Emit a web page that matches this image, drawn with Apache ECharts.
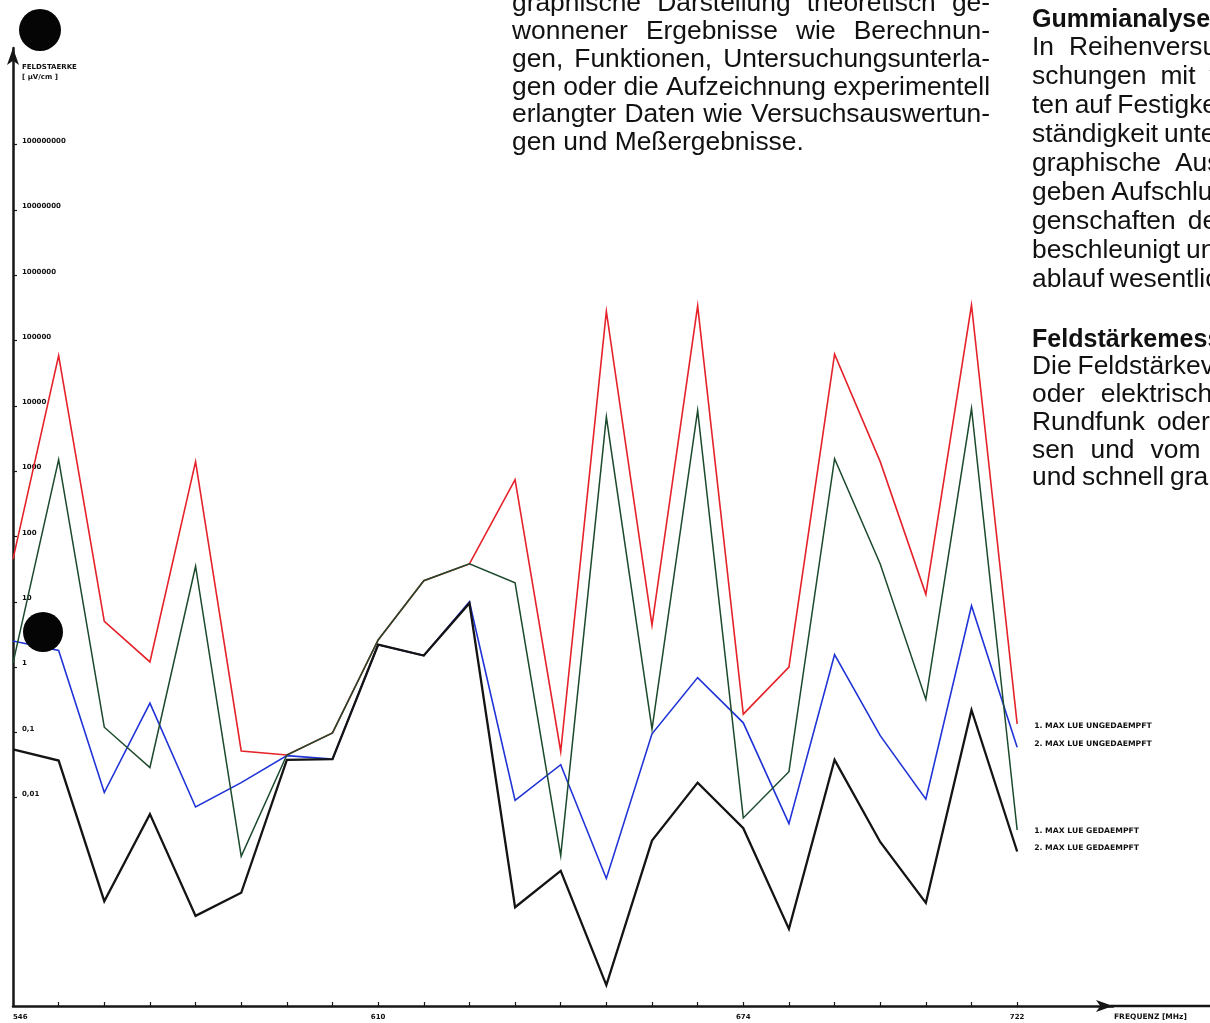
<!DOCTYPE html>
<html>
<head>
<meta charset="utf-8">
<script src="https://cdn.jsdelivr.net/npm/echarts@6/dist/echarts.min.js"></script>
<style>
  html, body { margin: 0; padding: 0; background: #fff; }
  #chart { width: 1210px; height: 1023px; }
</style>
</head>
<body>
<div id="chart"></div>
<script>
// Frequency steps in MHz (one reading every 8 MHz)
const frequencies = [546, 554, 562, 570, 578, 586, 594, 602, 610, 618, 626, 634,
                     642, 650, 658, 666, 674, 682, 690, 698, 706, 714, 722];

// Field strength in µV/cm
const max1Undamped = [45, 59000, 5.0, 1.2, 1400, 0.052, 0.045, 0.098, 2.6, 21, 38, 740,
                      0.051, 280000, 4.4, 340000, 0.19, 1.0, 62000, 1400, 13, 350000, 0.135];
const max2Undamped = [2.5, 1.8, 0.012, 0.28, 0.0072, 0.017, 0.044, 0.039, 2.2, 1.5, 10, 0.0091,
                      0.032, 0.00058, 0.095, 0.69, 0.14, 0.004, 1.55, 0.089, 0.0095, 8.7, 0.059];
const max1Damped   = [1.15, 1500, 0.12, 0.029, 35, 0.00126, 0.045, 0.098, 2.6, 21, 38, 19.5,
                      0.0013, 6800, 0.112, 8500, 0.0049, 0.025, 1550, 38, 0.32, 9100, 0.0032];
const max2Damped   = [0.055, 0.037, 0.00026, 0.0056, 0.000155, 0.00035, 0.038, 0.039, 2.2, 1.5, 9.5, 0.00021,
                      0.00076, 0.0000135, 0.0022, 0.017, 0.0034, 0.000098, 0.038, 0.0021, 0.000245, 0.22, 0.0015];

const seriesNames = ['1. MAX LUE UNGEDAEMPFT', '2. MAX LUE UNGEDAEMPFT',
                     '1. MAX LUE GEDAEMPFT', '2. MAX LUE GEDAEMPFT'];

// Stretch where the plotter traced the curves in black ink
const inkedRange = [594, 626];

const yTickValues = [0.01, 0.1, 1, 10, 100, 1000, 10000, 100000, 1000000, 10000000, 100000000];
const yTickLabels = ['0,01', '0,1', '1', '10', '100', '1000', '10000', '100000',
                     '1000000', '10000000', '100000000'];
const xTickValues = [554, 562, 570, 578, 586, 594, 602, 610, 618, 626, 634, 642,
                     650, 658, 666, 674, 682, 690, 698, 706, 714, 722];
const xLabelValues = [546, 610, 674, 722];

// Surrounding page text
const textLeft = [
  'graphische Darstellung theoretisch ge-',
  'wonnener Ergebnisse wie Berechnun-',
  'gen, Funktionen, Untersuchungsunterla-',
  'gen oder die Aufzeichnung experimentell',
  'erlangter Daten wie Versuchsauswertun-',
  'gen und Meßergebnisse.'
];
const textRight1 = ['In Reihenversu', 'schungen mit v', 'ten auf Festigke', 'ständigkeit unte',
                    'graphische Aus', 'geben Aufschluß', 'genschaften de', 'beschleunigt un',
                    'ablauf wesentlic'];
const textRight2 = ['Die Feldstärkev', 'oder elektrisch', 'Rundfunk oder', 'sen und vom (',
                    'und schnell gra'];
const headRight1 = 'Gummianalysen';
const headRight2 = 'Feldstärkemess';

const COLORS = ['#e5222a', '#1f33d6', '#1c4a2d', '#141414'];
const INK = '#161616';
const AX_FONT = "'DejaVu Sans', sans-serif";

const measureCtx = document.createElement('canvas').getContext('2d');
function textWidth(t, font) { measureCtx.font = font; return measureCtx.measureText(t).width; }

// body type sized so the unhyphenated full line sets solid across the column
const FAMILY = "'Liberation Sans', Arial, sans-serif";
const bodyPx = 21 * 478 / textWidth(textLeft[3], '21px ' + FAMILY);
const BODY_FONT = bodyPx.toFixed(2) + 'px ' + FAMILY;
const BODY_BOLD = 'bold ' + (bodyPx * 0.95).toFixed(2) + 'px ' + FAMILY;

const chart = echarts.init(document.getElementById('chart'), null, { renderer: 'canvas' });

const toPairs = vals => frequencies.map((f, i) => [f, vals[i]]);

// Lay out one line of words, optionally justified between x0 and x1
function wordLine(line, x0, x1, y, font, justify, gap) {
  const words = line.split(' ');
  const widths = words.map(w => textWidth(w, font));
  const total = widths.reduce((a, b) => a + b, 0);
  let space = gap != null ? gap : textWidth(' ', font);
  if (justify && words.length > 1) space = (x1 - x0 - total) / (words.length - 1);
  const out = [];
  let x = x0;
  words.forEach((w, i) => {
    out.push({
      type: 'text', x: x, y: y, silent: true,
      style: { text: w, font: font, fill: '#111', align: 'left', verticalAlign: 'middle',
               textAlign: 'left', textVerticalAlign: 'middle' }
    });
    x += widths[i] + space;
  });
  return out;
}

const graphics = [];
// hole punches of the sheet
graphics.push({ type: 'circle', shape: { cx: 40, cy: 30, r: 21 }, style: { fill: '#050505' }, z: 100 });
graphics.push({ type: 'circle', shape: { cx: 43, cy: 632, r: 20 }, style: { fill: '#050505' }, z: 100 });
// x axis line continuing past the arrow
graphics.push({ type: 'line', shape: { x1: 1110, y1: 1006, x2: 1210, y2: 1006 },
                style: { stroke: INK, lineWidth: 2.5 } });

const leftLineY = 4, leftStep = 27.8;
textLeft.forEach((t, i) => {
  graphics.push(...wordLine(t, 512, 990, leftLineY + i * leftStep, BODY_FONT, i < textLeft.length - 1));
});
const rightGaps1 = [15, 14, 6, 6, 14, 6, 12, 6, 6];
graphics.push(...wordLine(headRight1, 1032, 1300, 20, BODY_BOLD, false));
textRight1.forEach((t, i) => {
  graphics.push(...wordLine(t, 1032, 1300, 48 + i * 29, BODY_FONT, false, rightGaps1[i]));
});
const rightGaps2 = [6, 16, 12, 16, 6];
graphics.push(...wordLine(headRight2, 1032, 1300, 340, BODY_BOLD, false));
textRight2.forEach((t, i) => {
  graphics.push(...wordLine(t, 1032, 1300, 367 + i * 27.8, BODY_FONT, false, rightGaps2[i]));
});

const endOffsets = [[12, 2], [12, -3], [12, 1], [12, -3]];
const dataSets = [max1Undamped, max2Undamped, max1Damped, max2Damped];
const widths = [1.6, 1.6, 1.5, 2.3];

const series = dataSets.map((vals, k) => ({
  name: seriesNames[k],
  type: 'line',
  data: toPairs(vals),
  showSymbol: false,
  symbol: 'none',
  z: k === 3 ? 5 : 3 + (k === 1 ? 0 : 1),
  lineStyle: { color: COLORS[k], width: widths[k], join: 'miter' },
  itemStyle: { color: COLORS[k] },
  endLabel: {
    show: true,
    formatter: '{a}',
    color: '#111',
    fontFamily: AX_FONT,
    fontWeight: 'bold',
    fontSize: 7.7,
    distance: 5,
    offset: endOffsets[k]
  },
  emphasis: { disabled: true }
}));

const inkMap = (seriesIndex, color) => ({
  show: false,
  type: 'piecewise',
  seriesIndex: seriesIndex,
  dimension: 0,
  pieces: [
    { lt: inkedRange[0], color: color },
    { gte: inkedRange[0], lte: inkedRange[1], color: INK },
    { gt: inkedRange[1], color: color }
  ]
});

chart.setOption({
  animation: false,
  backgroundColor: '#fff',
  grid: { left: 13, right: 97, top: 48, bottom: 17, containLabel: false },
  visualMap: [inkMap(0, COLORS[0]), inkMap(2, COLORS[2])],
  xAxis: {
    type: 'value',
    min: 546,
    max: 738.8,
    name: 'FREQUENZ [MHz]',
    nameLocation: 'end',
    nameGap: 1,
    nameTextStyle: { color: '#111', fontFamily: AX_FONT, fontWeight: 'bold', fontSize: 7.5,
                     align: 'left', verticalAlign: 'top', padding: [7, 0, 0, 0] },
    axisLine: { show: true, onZero: false, symbol: ['none', 'arrow'], symbolSize: [9, 17],
                lineStyle: { color: INK, width: 2.5 } },
    axisTick: { show: true, inside: true, length: 4, customValues: xTickValues,
                lineStyle: { color: INK, width: 1.2 } },
    axisLabel: { show: true, customValues: xLabelValues, formatter: v => String(v), margin: 8,
                 color: '#111', fontFamily: AX_FONT, fontWeight: 'bold', fontSize: 7,
                 alignMinLabel: 'left', showMinLabel: true, showMaxLabel: true },
    splitLine: { show: false }
  },
  yAxis: {
    type: 'log',
    logBase: 10,
    min: Math.pow(10, -5.19),
    max: Math.pow(10, 9.48),
    name: 'FELDSTAERKE\n[ µV/cm ]',
    nameLocation: 'end',
    nameGap: -14,
    nameTextStyle: { color: '#111', fontFamily: AX_FONT, fontWeight: 'bold', fontSize: 7,
                     align: 'left', verticalAlign: 'top', lineHeight: 10, padding: [0, 0, 0, 9] },
    axisLine: { show: true, onZero: false, symbol: ['none', 'arrow'], symbolSize: [9, 17],
                lineStyle: { color: INK, width: 2.5 } },
    axisTick: { show: true, inside: true, length: 4, customValues: yTickValues,
                lineStyle: { color: INK, width: 1.2 } },
    axisLabel: {
      show: true, inside: true, customValues: yTickValues, margin: 9,
      formatter: v => yTickLabels[Math.round(Math.log10(v)) + 2] || '',
      color: '#111', fontFamily: AX_FONT, fontWeight: 'bold', fontSize: 7,
      verticalAlign: 'bottom'
    },
    splitLine: { show: false }
  },
  series: series,
  graphic: { elements: graphics }
});
</script>
</body>
</html>
